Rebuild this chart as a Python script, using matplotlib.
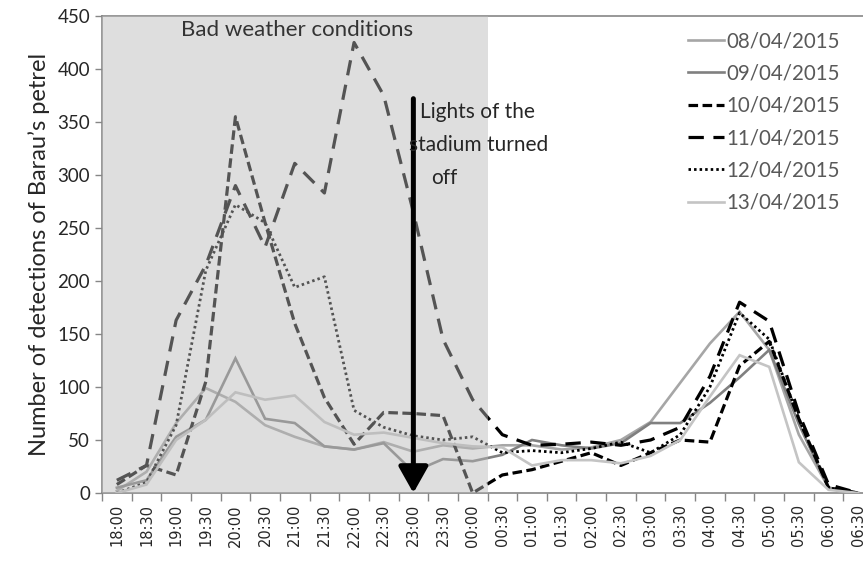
import matplotlib
matplotlib.use('Agg')
import matplotlib.pyplot as plt

# half-hour slots through the night
horas = ['18:00', '18:30', '19:00', '19:30', '20:00', '20:30', '21:00', '21:30',
         '22:00', '22:30', '23:00', '23:30', '00:00', '00:30', '01:00', '01:30',
         '02:00', '02:30', '03:00', '03:30', '04:00', '04:30', '05:00', '05:30',
         '06:00', '06:30']

# detections per night
n0804 = [2, 20, 66, 99, 86, 64, 53, 44, 41, 48, 39, 45, 42, 45, 45, 41, 43, 50, 67, 104, 141, 171, 135, 55, 5, 0]
n0904 = [5, 12, 53, 69, 127, 70, 66, 44, 41, 47, 20, 32, 30, 36, 50, 45, 42, 47, 66, 66, 85, 109, 135, 65, 5, 0]
n1004 = [8, 26, 17, 105, 355, 255, 160, 90, 46, 76, 75, 73, 0, 17, 22, 30, 38, 26, 38, 50, 48, 120, 143, 70, 5, 0]
n1104 = [12, 26, 163, 215, 290, 232, 311, 283, 425, 375, 265, 145, 88, 55, 45, 46, 48, 45, 50, 62, 110, 180, 162, 75, 8, 0]
n1204 = [0, 10, 64, 210, 272, 255, 194, 204, 78, 62, 54, 50, 53, 38, 40, 38, 42, 48, 38, 55, 100, 170, 145, 70, 5, 0]
n1304 = [0, 8, 50, 69, 95, 88, 92, 67, 55, 57, 52, 47, 44, 43, 26, 31, 31, 28, 35, 50, 91, 130, 119, 29, 3, 0]

fechas = ['08/04/2015', '09/04/2015', '10/04/2015', '11/04/2015', '12/04/2015', '13/04/2015']
series = [n0804, n0904, n1004, n1104, n1204, n1304]

# mal tiempo hasta 00:00, luces apagadas a las 23:00
fin_mal_tiempo = 12.5
apagado = 10
altura_flecha = 372

estilos = [
    dict(color='#a6a6a6', lw=1.9, ls='-'),
    dict(color='#808080', lw=1.9, ls='-'),
    dict(color='black', lw=2.3, ls=(0, (3.0, 1.4))),
    dict(color='black', lw=2.3, ls=(0, (4.8, 3.0))),
    dict(color='black', lw=2.0, ls=(0, (0.9, 1.1))),
    dict(color='#c4c4c4', lw=1.9, ls='-'),
]

plt.rcParams['font.family'] = ['Lato', 'DejaVu Sans']

fig = plt.figure(figsize=(8.63, 5.61), dpi=100)
ax = fig.add_axes([102 / 863, 68 / 561, 771 / 863, 477 / 561])

x = list(range(len(horas)))
for datos, fecha, st in zip(series, fechas, estilos):
    ax.plot(x, datos, label=fecha, solid_joinstyle='miter', dash_capstyle='butt', zorder=3, **st)

# zona gris semitransparente por encima de las curvas
ax.axvspan(-0.5, fin_mal_tiempo, color='#b8b8b8', alpha=0.46, lw=0, zorder=4)

ax.annotate('', xy=(apagado, 0), xytext=(apagado, altura_flecha),
            arrowprops=dict(arrowstyle='-|>,head_length=0.8,head_width=0.45',
                            color='black', lw=3.6, shrinkA=0, shrinkB=0,
                            mutation_scale=20),
            zorder=6)

fig.text(297 / 863, 1 - 30 / 561, 'Bad weather conditions', ha='center', va='center',
         fontsize=16, color='#333333', zorder=7)
fig.text(477 / 863, 1 - 112 / 561, 'Lights of the', ha='center', va='center',
         fontsize=15, color='#262626')
fig.text(479 / 863, 1 - 145 / 561, 'stadium turned', ha='center', va='center',
         fontsize=15, color='#262626')
fig.text(444 / 863, 1 - 178 / 561, 'off', ha='center', va='center',
         fontsize=15, color='#262626')

ax.set_xlim(-0.5, len(horas) - 0.5)
ax.set_ylim(0, 450)
ax.set_yticks(range(0, 451, 50))
ax.tick_params(axis='y', labelsize=13.5, colors='#868686', labelcolor='#262626', length=5, width=1)

ax.set_xticks(x)
ax.set_xticklabels(horas, rotation=90, fontsize=10.5, color='#262626', family='DejaVu Sans')
ax.set_xticks([i - 0.5 for i in range(len(horas) + 1)], minor=True)
ax.tick_params(axis='x', which='major', length=0, pad=8)
ax.tick_params(axis='x', which='minor', length=6, width=1, color='#868686')

for lado in ['left', 'bottom', 'top']:
    ax.spines[lado].set_color('#868686')
    ax.spines[lado].set_linewidth(1.2)
ax.spines['right'].set_visible(False)

ax.set_ylabel('Number of detections of Barau’s petrel', fontsize=17, color='#262626', labelpad=5)

ley = fig.legend(loc='upper right', bbox_to_anchor=(850 / 863, 1 - 21 / 561), frameon=False,
                 fontsize=14.8, handlelength=1.75, handletextpad=0.1, labelspacing=0.6,
                 borderpad=0)
for t in ley.get_texts():
    t.set_color('#595959')

fig.savefig('out.png', dpi=100)
